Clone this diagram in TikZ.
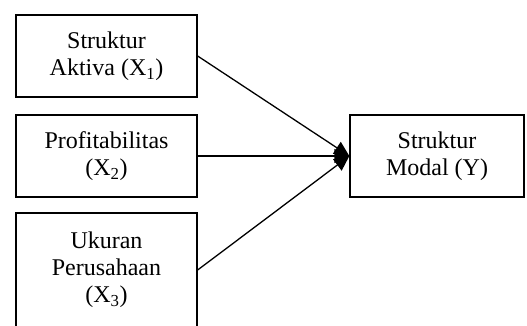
\documentclass[tikz,border=0pt]{standalone}
\usepackage{fontspec}
\setmainfont{Liberation Serif}
\usetikzlibrary{arrows.meta}
\begin{document}
\begin{tikzpicture}[x=1pt,y=-1pt,
  txt/.style={font=\fontsize{24}{27}\selectfont},
  box/.style={draw, line width=1.3pt, minimum width=181pt, minimum height=82pt,
    inner sep=0pt, align=center, txt},
  link/.style={line width=1.3pt, -{Triangle[length=15pt,width=14pt]}}]
\useasboundingbox (0,0) rectangle (527,325);
\node[box] (x1) at (106.5,56) {Struktur\\Aktiva (X\textsubscript{1})};
\node[box] (x2) at (106.5,156) {Profitabilitas\\(X\textsubscript{2})};
\node[box, minimum height=114pt] (x3) at (106.5,270) {Ukuran\\Perusahaan\\(X\textsubscript{3})};
\node[box, minimum width=174pt] (y) at (437,156) {Struktur\\Modal (Y)};
\draw[link] (x1.east) -- (y.west);
\draw[link] (x2.east) -- (y.west);
\draw[link] (x3.east) -- (y.west);
\end{tikzpicture}
\end{document}
